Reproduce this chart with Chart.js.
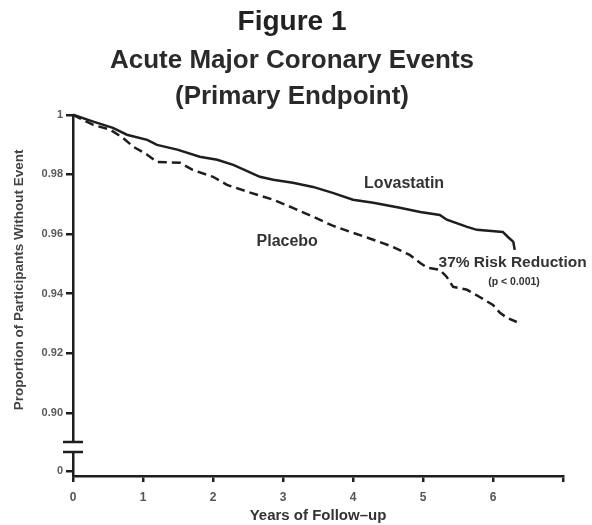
<!DOCTYPE html>
<html>
<head>
<meta charset="utf-8">
<script src="https://cdn.jsdelivr.net/npm/chart.js@4.4.0/dist/chart.umd.min.js"></script>
<style>
  body { margin: 0; background: #fff; }
</style>
</head>
<body>
<canvas id="chart" width="592" height="525"></canvas>
<script>
// Kaplan-Meier curves (years, proportion without event)
const lovastatinYears = [0, 0.29, 0.57, 0.77, 1.06, 1.20, 1.49, 1.81, 2.06, 2.29, 2.67, 2.86, 3.14, 3.43, 3.71, 4.00, 4.29, 4.67, 4.96, 5.24, 5.34, 5.63, 5.77, 6.14, 6.21, 6.29, 6.31];
const lovastatinValues = [1.000, 0.9977, 0.9956, 0.9933, 0.9916, 0.9899, 0.9883, 0.9859, 0.9849, 0.9832, 0.9792, 0.9782, 0.9772, 0.9758, 0.9738, 0.9715, 0.9705, 0.9688, 0.9674, 0.9664, 0.9648, 0.9624, 0.9614, 0.9607, 0.9591, 0.9574, 0.9547];

const placeboYears = [0, 0.29, 0.53, 0.71, 0.86, 1.06, 1.20, 1.53, 1.71, 2.00, 2.20, 2.49, 2.86, 3.14, 3.43, 3.71, 4.00, 4.29, 4.57, 4.81, 4.96, 5.06, 5.24, 5.34, 5.43, 5.63, 5.81, 6.00, 6.10, 6.20, 6.34];
const placeboValues = [1.000, 0.9966, 0.9950, 0.9923, 0.9893, 0.9866, 0.9842, 0.9839, 0.9815, 0.9792, 0.9765, 0.9742, 0.9715, 0.9688, 0.9658, 0.9628, 0.9604, 0.9581, 0.9557, 0.9530, 0.9503, 0.9487, 0.9480, 0.9456, 0.9423, 0.9413, 0.9389, 0.9362, 0.9336, 0.9319, 0.9305];

const xTickLabels = ['0', '1', '2', '3', '4', '5', '6', ''];
const yTickValues = [0.90, 0.92, 0.94, 0.96, 0.98, 1];
const yTickLabels = ['0.90', '0.92', '0.94', '0.96', '0.98', '1'];

// the broken axis: "0" sits just below the break
const ZERO_SLOT = 0.8805;
const BREAK_TOP = 0.8903;
const BREAK_BOTTOM = 0.8869;

const curveLabels = [
    { text: 'Lovastatin', x: 4.73, y: 0.9768, size: 16 },
    { text: 'Placebo', x: 3.06, y: 0.9574, size: 16 },
    { text: '37% Risk Reduction', x: 6.28, y: 0.9503, size: 15.5 },
    { text: '(p < 0.001)', x: 6.30, y: 0.9440, size: 10.5 }
];

const yTitle = 'Proportion of Participants Without Event';

const ink = '#1e1e1e';
const fontFamily = '"Liberation Sans", Arial, sans-serif';

function toPoints(xs, ys) {
    return xs.map((x, i) => ({ x: x, y: ys[i] }));
}

// axis break marks, y title and the curve labels
const extrasPlugin = {
    id: 'extras',
    afterDraw(chart) {
        const { ctx, scales: { x, y } } = chart;
        ctx.save();
        const yTop = y.getPixelForValue(BREAK_TOP);
        const yBot = y.getPixelForValue(BREAK_BOTTOM);
        const ax = x.left;
        ctx.fillStyle = '#fff';
        ctx.fillRect(ax - 3, yTop, 6, yBot - yTop);
        ctx.strokeStyle = ink;
        ctx.lineWidth = 2.5;
        ctx.beginPath();
        ctx.moveTo(ax - 10, yTop); ctx.lineTo(ax + 10, yTop);
        ctx.moveTo(ax - 10, yBot); ctx.lineTo(ax + 10, yBot);
        ctx.stroke();

        ctx.fillStyle = '#333';
        ctx.textAlign = 'center';
        ctx.textBaseline = 'middle';
        curveLabels.forEach(l => {
            ctx.font = 'bold ' + l.size + 'px ' + fontFamily;
            ctx.fillText(l.text, x.getPixelForValue(l.x), y.getPixelForValue(l.y));
        });

        // y title, centred on the upper part of the axis like the original
        ctx.fillStyle = '#444';
        ctx.font = 'bold 13.5px ' + fontFamily;
        ctx.translate(19, (y.getPixelForValue(1) + y.getPixelForValue(0.90)) / 2 + 16);
        ctx.rotate(-Math.PI / 2);
        ctx.fillText(yTitle, 0, 0);
        ctx.restore();
    }
};

const ctx = document.getElementById('chart').getContext('2d');
new Chart(ctx, {
    type: 'line',
    data: {
        datasets: [
            {
                label: 'Lovastatin',
                data: toPoints(lovastatinYears, lovastatinValues),
                borderColor: ink,
                borderWidth: 2.5,
                pointRadius: 0,
                tension: 0,
                clip: false
            },
            {
                label: 'Placebo',
                data: toPoints(placeboYears, placeboValues),
                borderColor: ink,
                borderWidth: 2.5,
                borderDash: [9, 5],
                pointRadius: 0,
                tension: 0,
                clip: false
            }
        ]
    },
    options: {
        responsive: false,
        animation: false,
        layout: { padding: { left: 21, right: 29, top: 0, bottom: 0 } },
        plugins: {
            legend: { display: false },
            tooltip: { enabled: false },
            title: {
                display: true,
                text: 'Figure 1',
                color: '#222',
                font: { family: fontFamily, size: 28, weight: 'bold', lineHeight: 1 },
                padding: { top: 8, bottom: 7 }
            },
            subtitle: {
                display: true,
                text: ['Acute Major Coronary Events', '(Primary Endpoint)'],
                color: '#2a2a2a',
                font: { family: fontFamily, size: 26, weight: 'bold', lineHeight: 1.38 },
                padding: { top: 0, bottom: 0 }
            }
        },
        scales: {
            x: {
                type: 'linear',
                min: 0,
                max: 7,
                afterFit: (scale) => { scale.height = 49; },
                ticks: {
                    stepSize: 1,
                    padding: 8,
                    color: '#555',
                    font: { family: fontFamily, size: 12, weight: 'bold' },
                    callback: (v) => xTickLabels[v]
                },
                grid: { drawOnChartArea: false, tickLength: 6, tickColor: ink, lineWidth: 2.5 },
                border: { color: ink, width: 2.5 },
                title: {
                    display: true,
                    text: 'Years of Follow\u2013up',
                    color: '#333',
                    font: { family: fontFamily, size: 15, weight: 'bold' },
                    padding: { top: 0, bottom: 0 }
                }
            },
            y: {
                type: 'linear',
                min: 0.87886,
                max: 1.0,
                afterFit: (scale) => { scale.width = 52; },
                afterBuildTicks: (scale) => {
                    scale.ticks = [ZERO_SLOT].concat(yTickValues).map(v => ({ value: v }));
                },
                ticks: {
                    padding: 3,
                    color: '#5a5a5a',
                    font: { family: fontFamily, size: 11, weight: 'bold' },
                    callback: (v) => {
                        const i = yTickValues.findIndex(t => Math.abs(t - v) < 1e-6);
                        return i >= 0 ? yTickLabels[i] : '0';
                    }
                },
                grid: { drawOnChartArea: false, tickLength: 7, tickColor: ink, lineWidth: 2.5 },
                border: { color: ink, width: 2.5 }
            }
        }
    },
    plugins: [extrasPlugin]
});
</script>
</body>
</html>
